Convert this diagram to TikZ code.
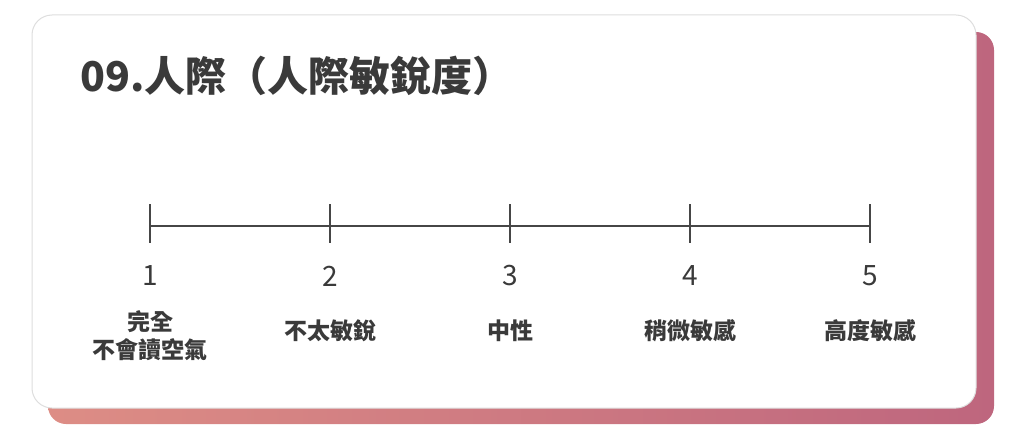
\documentclass[tikz,border=0pt]{standalone}
\usepackage{fontspec}
\newfontfamily\cjk{Noto Sans CJK TC}
\usetikzlibrary{positioning}
\definecolor{shadowsalmon}{RGB}{221,141,133}
\definecolor{shadowmauve}{RGB}{190,102,126}
\definecolor{cardedge}{RGB}{222,222,222}
\definecolor{inkgray}{RGB}{58,58,58}
\definecolor{axisgray}{RGB}{70,70,70}
\tikzset{
    scaletitle/.style={font=\cjk\bfseries\fontsize{41}{44}\selectfont, text=inkgray, anchor=base west, inner sep=0pt},
    scalenum/.style={font=\cjk\fontsize{28}{30}\selectfont, text=inkgray, inner sep=0pt},
    scalelabel/.style={font=\cjk\bfseries\fontsize{23}{28}\selectfont, text=inkgray, align=center, inner sep=0pt},
    scaleaxis/.style={draw=axisgray, line width=2.4pt},
    scaletick/.style={draw=axisgray, line width=2.4pt}
}

\begin{document}
\begin{tikzpicture}[x=1pt, y=-1pt]
\useasboundingbox (0,0) rectangle (1024,441);

% card with coloured offset
\shade[left color=shadowsalmon, right color=shadowmauve, rounded corners=18pt] (48,32) rectangle (994,424);
\draw[cardedge, fill=white, line width=1pt, rounded corners=20pt] (32,15) rectangle (976,408);

\node[scaletitle] (title) at (80,92) {09.人際（人際敏銳度）};

% scale
\foreach \i in {1,...,5} {
    \coordinate (tick\i) at ({150+(\i-1)*180},226);
    \draw[scaletick] ([yshift=22pt]tick\i) -- ([yshift=-17pt]tick\i);
    \node[scalenum] (num\i) at ({150+(\i-1)*180},276) {\i};
}
\draw[scaleaxis] (tick1) -- (tick5);

\node[scalelabel] (lbl1) at (150,336) {完全\\不會讀空氣};
\node[scalelabel] (lbl2) at (330,331) {不太敏銳};
\node[scalelabel] (lbl3) at (510,331) {中性};
\node[scalelabel] (lbl4) at (690,331) {稍微敏感};
\node[scalelabel] (lbl5) at (870,331) {高度敏感};

\end{tikzpicture}
\end{document}
